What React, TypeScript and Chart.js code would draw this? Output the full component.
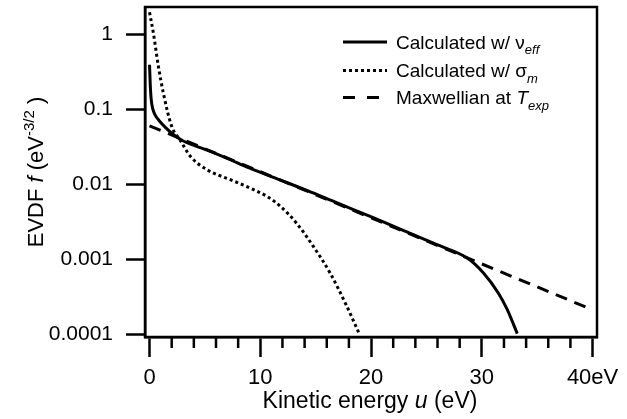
import React, { useEffect, useRef } from 'react';
import { Chart, registerables } from 'chart.js';

Chart.register(...registerables);

// ---- data ----
const energyVeff = [0.0, 0.06, 0.15, 0.3, 0.5, 0.95, 1.5, 2.0, 3.0, 5.0, 7.0, 9.0, 12.0, 14.2, 17.0, 20.2, 23.0, 26.2, 28.65, 30.15, 31.5, 32.3, 33.2];
const fVeff = [0.39, 0.22, 0.135, 0.1, 0.084, 0.068, 0.056, 0.048, 0.038, 0.0292, 0.0222, 0.0165, 0.0111, 0.0083, 0.0056, 0.0036, 0.0024, 0.00152, 0.00105, 0.00066, 0.000355, 0.000215, 0.000103];

const energySigma = [0.0, 0.35, 0.8, 1.25, 2.0, 2.75, 3.7, 5.2, 7.3, 9.1, 10.6, 11.8, 13.3, 14.8, 16.3, 17.8, 18.9];
const fSigma = [1.95, 1.02, 0.37, 0.163, 0.059, 0.039, 0.0234, 0.0156, 0.0115, 0.0089, 0.0069, 0.0051, 0.003, 0.00148, 0.00066, 0.00024, 0.000105];

const energyMaxwell = [0, 10, 20, 30, 40];
const fMaxwell = [0.06, 0.0147, 0.00358, 0.00087, 0.000213];

const xTickValues = [0, 2, 4, 6, 8, 10, 12, 14, 16, 18, 20, 22, 24, 26, 28, 30, 32, 34, 36, 38, 40];
const xMajorValues = [0, 10, 20, 30, 40];
const xMajorLabels = ['0', '10', '20', '30', '40eV'];

const yTickValues = [0.0001, 0.001, 0.01, 0.1, 1];
const yTickLabels = ['0.0001', '0.001', '0.01', '0.1', '1'];

const legendLabels = ['Calculated w/ ', 'Calculated w/ ', 'Maxwellian at '];

const FONT = "'Liberation Sans', Arial, Helvetica, sans-serif";

type Part = { t: string; it?: boolean; sub?: boolean; sup?: boolean };

function partFont(p: Part, size: number) {
  const s = p.sub || p.sup ? Math.round(size * 0.68) : size;
  return `${p.it ? 'italic ' : ''}${s}px ${FONT}`;
}

function measureRich(ctx: CanvasRenderingContext2D, parts: Part[], size: number) {
  let w = 0;
  for (const p of parts) {
    ctx.font = partFont(p, size);
    w += ctx.measureText(p.t).width;
  }
  return w;
}

function drawRich(ctx: CanvasRenderingContext2D, x: number, y: number, parts: Part[], size: number) {
  let cx = x;
  ctx.textBaseline = 'alphabetic';
  ctx.textAlign = 'left';
  for (const p of parts) {
    ctx.font = partFont(p, size);
    let dy = 0;
    if (p.sub) dy = size * 0.3;
    if (p.sup) dy = -size * 0.42;
    ctx.fillText(p.t, cx, y + dy);
    cx += ctx.measureText(p.t).width;
  }
}

const decorPlugin = {
  id: 'decor',
  afterDraw(chart: any) {
    const ctx: CanvasRenderingContext2D = chart.ctx;
    const area = chart.chartArea;
    const xs = chart.scales.x;
    ctx.save();
    ctx.strokeStyle = '#000';
    ctx.fillStyle = '#000';
    // frame
    ctx.lineWidth = 2.5;
    ctx.setLineDash([]);
    ctx.strokeRect(area.left, area.top, area.right - area.left, area.bottom - area.top);
    // minor x ticks
    for (const v of xTickValues) {
      if (xMajorValues.includes(v)) continue;
      const px = xs.getPixelForValue(v);
      ctx.beginPath();
      ctx.moveTo(px, area.bottom);
      ctx.lineTo(px, area.bottom + 11);
      ctx.stroke();
    }
    // x title
    const xParts: Part[] = [{ t: 'Kinetic energy ' }, { t: 'u', it: true }, { t: ' (eV)' }];
    const xw = measureRich(ctx, xParts, 23);
    drawRich(ctx, 370 - xw / 2, 408, xParts, 23);
    // y title
    const yParts: Part[] = [{ t: 'EVDF ' }, { t: 'f', it: true }, { t: ' (eV' }, { t: '-3/2', sup: true }, { t: ' )' }];
    const yw = measureRich(ctx, yParts, 22);
    ctx.save();
    ctx.translate(43, (area.top + area.bottom) / 2);
    ctx.rotate(-Math.PI / 2);
    drawRich(ctx, -yw / 2, 0, yParts, 22);
    ctx.restore();

    // legend
    const rows = [48.5, 77, 104];
    const lx0 = 343;
    const lx1 = 387;
    const tx = 396;
    const size = 19;
    const rich: Part[][] = [
      [{ t: legendLabels[0] }, { t: 'ν' }, { t: 'eff', it: true, sub: true }],
      [{ t: legendLabels[1] }, { t: 'σ' }, { t: 'm', it: true, sub: true }],
      [{ t: legendLabels[2] }, { t: 'T', it: true }, { t: 'exp', it: true, sub: true }],
    ];
    const dashes = [[], [3, 3], [12, 12]];
    rows.forEach((by, i) => {
      const cy = by - 6.5;
      ctx.lineWidth = 3;
      ctx.setLineDash(dashes[i]);
      ctx.beginPath();
      ctx.moveTo(lx0, cy);
      ctx.lineTo(i === 2 ? 381 : lx1, cy);
      ctx.stroke();
      ctx.setLineDash([]);
      drawRich(ctx, tx, by, rich[i], size);
    });
    ctx.restore();
  },
};

export default function App() {
  const ref = useRef<HTMLCanvasElement | null>(null);

  useEffect(() => {
    if (!ref.current) return;
    const chart = new Chart(ref.current, {
      type: 'line',
      data: {
        datasets: [
          {
            label: 'Calculated w/ ν_eff',
            data: energyVeff.map((x, i) => ({ x, y: fVeff[i] })),
            borderColor: '#000',
            borderWidth: 3,
            pointRadius: 0,
            cubicInterpolationMode: 'monotone',
            fill: false,
          },
          {
            label: 'Calculated w/ σ_m',
            data: energySigma.map((x, i) => ({ x, y: fSigma[i] })),
            borderColor: '#000',
            borderWidth: 3,
            borderDash: [3, 3],
            pointRadius: 0,
            cubicInterpolationMode: 'monotone',
            fill: false,
          },
          {
            label: 'Maxwellian at T_exp',
            data: energyMaxwell.map((x, i) => ({ x, y: fMaxwell[i] })),
            borderColor: '#000',
            borderWidth: 3,
            borderDash: [12, 8],
            pointRadius: 0,
            tension: 0,
            fill: false,
          },
        ],
      },
      options: {
        responsive: false,
        animation: false,
        devicePixelRatio: 1,
        layout: { padding: { top: 7, right: 30, left: 0, bottom: 0 } },
        plugins: { legend: { display: false }, tooltip: { enabled: false } },
        scales: {
          x: {
            type: 'linear',
            min: -0.41,
            max: 40.4,
            position: 'bottom',
            afterBuildTicks: (s: any) => {
              s.ticks = xTickValues.map((v) => ({ value: v }));
            },
            afterFit: (s: any) => {
              s.height = 82;
              s.paddingLeft = 0;
              s.paddingRight = 0;
            },
            grid: {
              display: true,
              drawOnChartArea: false,
              drawTicks: true,
              tickLength: 20,
              tickWidth: 2.5,
              tickColor: (c: any) => (xMajorValues.includes(c.tick?.value) ? '#000' : 'rgba(0,0,0,0)'),
            },
            border: { display: true, color: '#000', width: 2.5 },
            ticks: {
              autoSkip: false,
              maxRotation: 0,
              padding: 8,
              color: '#000',
              font: { family: FONT, size: 22 },
              callback: (v: any) => {
                const i = xMajorValues.indexOf(Number(v));
                return i >= 0 ? xMajorLabels[i] : '';
              },
            },
          },
          y: {
            type: 'logarithmic',
            min: 0.0000927,
            max: 2.29,
            position: 'left',
            afterBuildTicks: (s: any) => {
              s.ticks = yTickValues.map((v) => ({ value: v }));
            },
            afterFit: (s: any) => {
              s.width = 145;
              s.paddingTop = 0;
              s.paddingBottom = 0;
            },
            grid: {
              display: true,
              drawOnChartArea: false,
              drawTicks: true,
              tickLength: 19,
              tickWidth: 2.5,
              tickColor: '#000',
            },
            border: { display: true, color: '#000', width: 2.5 },
            ticks: {
              autoSkip: false,
              padding: 13,
              color: '#000',
              font: { family: FONT, size: 21 },
              callback: (v: any) => {
                const i = yTickValues.indexOf(Number(v));
                return i >= 0 ? yTickLabels[i] : '';
              },
            },
          },
        },
      },
      plugins: [decorPlugin],
    } as any);
    return () => chart.destroy();
  }, []);

  return (
    <div style={{ position: 'fixed', left: 0, top: 0, width: 627, height: 419, background: '#fff' }}>
      <canvas ref={ref} width={627} height={419} style={{ display: 'block' }} />
    </div>
  );
}
